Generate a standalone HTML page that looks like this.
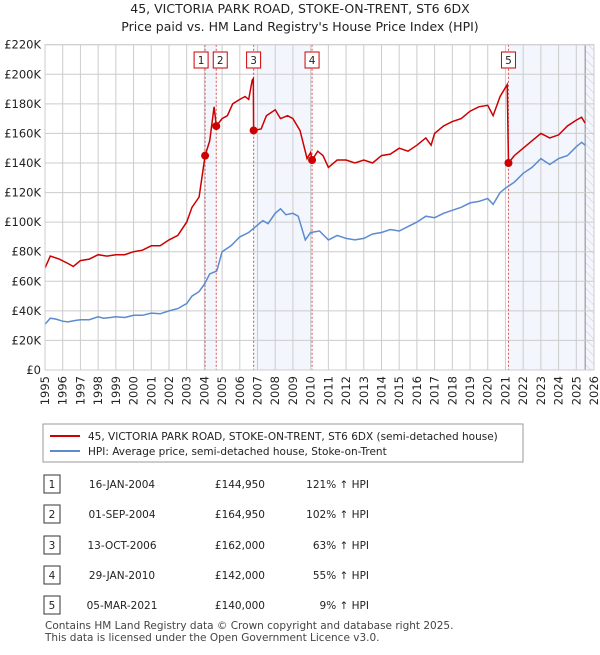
<!DOCTYPE html>
<html><head><meta charset="utf-8"><style>
body{margin:0;background:#fff;font-family:"Liberation Sans","DejaVu Sans",sans-serif;}
svg text{font-family:"DejaVu Sans","Liberation Sans",sans-serif;}
</style></head><body>
<svg id="c" width="600" height="650" xmlns="http://www.w3.org/2000/svg">
<defs><pattern id="hatch" width="6" height="6" patternUnits="userSpaceOnUse" patternTransform="rotate(-45)"><line x1="0" y1="0" x2="0" y2="6" stroke="#ccc" stroke-width="1"/></pattern></defs>
<text x="300" y="13" text-anchor="middle" font-size="12.5" fill="#222">45, VICTORIA PARK ROAD, STOKE-ON-TRENT, ST6 6DX</text>
<text x="300" y="31" text-anchor="middle" font-size="12.5" fill="#222">Price paid vs. HM Land Registry's House Price Index (HPI)</text>
<g id="bg"></g><g id="grid"></g><g id="lines"></g><g id="marks"></g><g id="axes"></g>
<g>
<rect x="43" y="424" width="480" height="38" fill="#fff" stroke="#999"/>
<line x1="50" y1="436" x2="80" y2="436" stroke="#cc0000" stroke-width="2"/>
<text x="88" y="440" font-size="10.5" fill="#222">45, VICTORIA PARK ROAD, STOKE-ON-TRENT, ST6 6DX (semi-detached house)</text>
<line x1="50" y1="451" x2="80" y2="451" stroke="#5b8bd0" stroke-width="2"/>
<text x="88" y="455" font-size="10.5" fill="#222">HPI: Average price, semi-detached house, Stoke-on-Trent</text>
</g>
<g id="table" font-size="10.5" fill="#222"></g>
<text x="45" y="629" font-size="10.5" fill="#444">Contains HM Land Registry data © Crown copyright and database right 2025.</text>
<text x="45" y="641" font-size="10.5" fill="#444">This data is licensed under the Open Government Licence v3.0.</text>
</svg>
<script>
const hpiYears=[1995,1995.3,1995.6,1996,1996.3,1996.7,1997,1997.5,1998,1998.3,1998.7,1999,1999.5,2000,2000.5,2001,2001.5,2002,2002.5,2003,2003.3,2003.7,2004,2004.3,2004.7,2005,2005.5,2006,2006.5,2007,2007.3,2007.6,2008,2008.3,2008.6,2009,2009.3,2009.7,2010,2010.5,2011,2011.5,2012,2012.5,2013,2013.5,2014,2014.5,2015,2015.5,2016,2016.5,2017,2017.5,2018,2018.5,2019,2019.5,2020,2020.3,2020.7,2021,2021.5,2022,2022.5,2023,2023.5,2024,2024.5,2025,2025.3,2025.5];
const hpiValues=[31,35,34.5,33,32.5,33.5,34,34,36,35,35.5,36,35.5,37,37,38.5,38,40,41.5,45,50,53,58,65,67,80,84,90,93,98,101,99,106,109,105,106,104,88,93,94,88,91,89,88,89,92,93,95,94,97,100,104,103,106,108,110,113,114,116,112,120,123,127,133,137,143,139,143,145,151,154,152];
const propYears=[1995,1995.3,1995.8,1996.3,1996.6,1997,1997.5,1998,1998.5,1999,1999.5,2000,2000.5,2001,2001.5,2002,2002.5,2003,2003.3,2003.7,2004.04,2004.3,2004.55,2004.67,2005,2005.3,2005.6,2006,2006.3,2006.5,2006.7,2006.76,2006.78,2007.2,2007.5,2008,2008.3,2008.7,2009,2009.4,2009.8,2010,2010.08,2010.4,2010.7,2011,2011.5,2012,2012.5,2013,2013.5,2014,2014.5,2015,2015.5,2016,2016.5,2016.8,2017,2017.5,2018,2018.5,2019,2019.5,2020,2020.3,2020.7,2021.1,2021.17,2021.5,2022,2022.5,2023,2023.5,2024,2024.5,2025,2025.3,2025.5];
const propValues=[69,77,75,72,70,74,75,78,77,78,78,80,81,84,84,88,91,100,110,117,145,155,178,165,170,172,180,183,185,183,196,197,162,163,172,176,170,172,170,162,143,147,142,148,145,137,142,142,140,142,140,145,146,150,148,152,157,152,160,165,168,170,175,178,179,172,185,193,140,145,150,155,160,157,159,165,169,171,167];
const saleLabels=["1","2","3","4","5"];
const saleYears=[2004.04,2004.67,2006.78,2010.08,2021.17];
const salePrices=[144950,164950,162000,142000,140000];
const saleDates=["16-JAN-2004","01-SEP-2004","13-OCT-2006","29-JAN-2010","05-MAR-2021"];
const salePct=["121% ↑ HPI","102% ↑ HPI","63% ↑ HPI","55% ↑ HPI","9% ↑ HPI"];
const yTicks=[0,20,40,60,80,100,120,140,160,180,200,220];
const xTicks=[];for(let y=1995;y<=2026;y++)xTicks.push(y);

const X0=45,X1=594,Y0=370,Y1=44.7;
const xs=y=>X0+(y-1995)/(2026-1995)*(X1-X0);
const ys=v=>Y0-v/220*(Y0-Y1);
const NS="http://www.w3.org/2000/svg";
function mk(p,t,a){const e=document.createElementNS(NS,t);for(const k in a)e.setAttribute(k,a[k]);p.appendChild(e);return e;}
const bg=document.getElementById('bg'),grid=document.getElementById('grid'),lines=document.getElementById('lines'),marks=document.getElementById('marks'),axes=document.getElementById('axes'),table=document.getElementById('table');
const spans=[[0,1],[2,3],[4,-1]];
spans.forEach((s,i)=>{const a=xs(saleYears[s[0]]);const b=s[1]<0?X1:xs(saleYears[s[1]]);
const r=mk(bg,'rect',{x:a,y:Y1,width:b-a,height:Y0-Y1,fill:'#f3f6fd'});

});
const hx=xs(2025.5);
const h=mk(bg,'rect',{x:hx,y:Y1,width:X1-hx,height:Y0-Y1,fill:'url(#hatch)'});


mk(bg,'line',{x1:hx,y1:Y1,x2:hx,y2:Y0,stroke:'#888','stroke-width':1});
xTicks.forEach(y=>{const l=mk(grid,'line',{x1:xs(y),y1:Y1,x2:xs(y),y2:Y0,stroke:'#ccc','stroke-width':1});


const t=mk(axes,'text',{x:0,y:0,'font-size':11.5,fill:'#222','text-anchor':'end',transform:`translate(${xs(y)+4},${Y0+6}) rotate(-90)`});t.textContent=y;

});
yTicks.forEach(v=>{const l=mk(grid,'line',{x1:X0,y1:ys(v),x2:X1,y2:ys(v),stroke:'#ccc','stroke-width':1});


const t=mk(axes,'text',{x:X0-4,y:ys(v)+4,'font-size':11.5,fill:'#222','text-anchor':'end'});t.textContent=v===0?'£0':'£'+v+'K';

});
saleYears.forEach((y,i)=>{const l=mk(lines,'line',{x1:xs(y),y1:Y1,x2:xs(y),y2:Y0,stroke:'#e05050','stroke-width':1,'stroke-dasharray':'2,2'});


const bx=i===0?xs(y)-11:(i===1?xs(y)-3:xs(y)-7);
const r=mk(marks,'rect',{x:bx,y:52,width:14,height:16,fill:'#fff',stroke:'#cc0000'});


const t=mk(marks,'text',{x:bx+7,y:64,'font-size':10.5,'text-anchor':'middle',fill:'#222'});t.textContent=saleLabels[i];

});
const pts=(xa,va)=>xa.map((y,i)=>xs(y).toFixed(1)+','+ys(va[i]).toFixed(1)).join(' ');
const hp=mk(lines,'polyline',{points:pts(hpiYears,hpiValues),fill:'none',stroke:'#5b8bd0','stroke-width':1.5});


const pp=mk(lines,'polyline',{points:pts(propYears,propValues),fill:'none',stroke:'#cc0000','stroke-width':1.5});


saleYears.forEach((y,i)=>{const c=mk(marks,'circle',{cx:xs(y),cy:ys(salePrices[i]/1000),r:4,fill:'#cc0000'});

});
mk(axes,'rect',{x:X0,y:Y1,width:X1-X0,height:Y0-Y1,fill:'none',stroke:'#ccc'});
const rowY=[484,514,545,575,605];
saleYears.forEach((y,i)=>{const g=mk(table,'g',{});


mk(g,'rect',{x:44,y:rowY[i]-9,width:16,height:18,fill:'#fff',stroke:'#333'});
let t=mk(g,'text',{x:52,y:rowY[i]+4,'text-anchor':'middle'});t.textContent=saleLabels[i];
t=mk(g,'text',{x:122,y:rowY[i]+4,'text-anchor':'middle'});t.textContent=saleDates[i];
t=mk(g,'text',{x:265,y:rowY[i]+4,'text-anchor':'end'});t.textContent='£'+salePrices[i].toLocaleString('en-GB');
t=mk(g,'text',{x:369,y:rowY[i]+4,'text-anchor':'end'});t.textContent=salePct[i];});
</script>
</body></html>
